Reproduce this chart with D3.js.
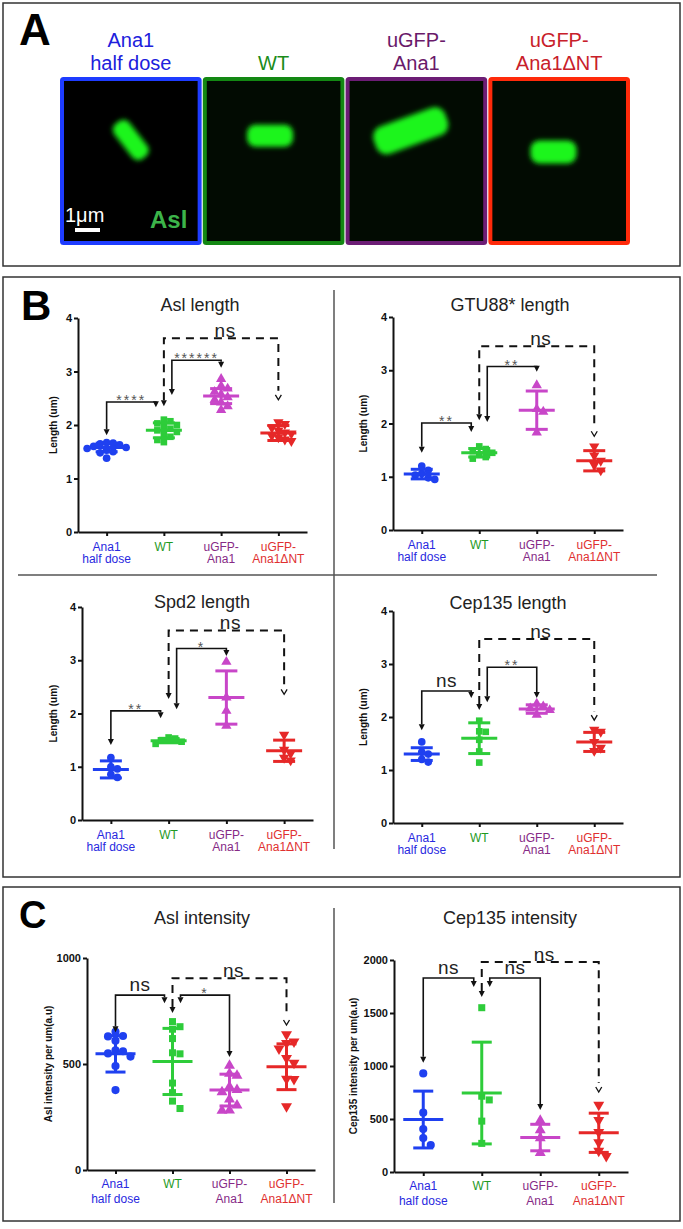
<!DOCTYPE html>
<html>
<head>
<meta charset="utf-8">
<script src="https://cdn.jsdelivr.net/npm/d3@7"></script>
<style>
body { margin: 0; background: #fff; }
text { font-family: "Liberation Sans", Arial, sans-serif; }
</style>
</head>
<body>
<div id="wrapper"></div>
<script>
// categories
const groups = ["Ana1 half dose", "WT", "uGFP-Ana1", "uGFP-Ana1ΔNT"];
const groupLines = [["Ana1", "half dose"], ["WT"], ["uGFP-", "Ana1"], ["uGFP-", "Ana1ΔNT"]];

// B: Asl length
const aslLengthValues = [
    [1.67, 1.66, 1.65, 1.63, 1.6, 1.58, 1.56, 1.53, 1.5, 1.48, 1.38],
    [2.1, 2.07, 2.03, 2.0, 1.97, 1.93, 1.9, 1.87, 1.83, 1.78, 1.72, 1.68],
    [2.86, 2.73, 2.68, 2.62, 2.57, 2.52, 2.47, 2.42, 2.35, 2.28],
    [2.05, 2.02, 1.95, 1.9, 1.86, 1.84, 1.8, 1.77, 1.73, 1.7]
];
const aslLengthMean = [1.58, 1.9, 2.54, 1.85];
const aslLengthSD = [0.08, 0.14, 0.14, 0.14];
const aslLengthTests = [
    {a: 0, b: 1, level: 2.43, tipA: 1.81, tipB: 2.33, label: "****"},
    {a: 1, b: 2, level: 3.21, tipA: 2.56, tipB: 3.07, label: "******"},
    {a: 1, b: 3, level: 3.62, tipA: 2.35, tipB: 2.47, label: "ns", dashed: true}
];

// B: GTU88* length
const gtuLengthValues = [
    [1.2, 1.12, 1.06, 1.03, 0.98, 0.95],
    [1.57, 1.52, 1.48, 1.45, 1.42, 1.37, 1.34],
    [2.72, 2.27, 2.22, 1.83],
    [1.57, 1.4, 1.3, 1.22, 1.12]
];
const gtuLengthMean = [1.05, 1.45, 2.25, 1.3];
const gtuLengthSD = [0.09, 0.08, 0.36, 0.19];
const gtuLengthTests = [
    {a: 0, b: 1, level: 2.01, tipA: 1.45, tipB: 1.84, label: "**"},
    {a: 1, b: 2, level: 3.07, tipA: 2.03, tipB: 2.97, label: "**"},
    {a: 1, b: 3, level: 3.45, tipA: 2.06, tipB: 1.76, label: "ns", dashed: true}
];

// B: Spd2 length
const spd2LengthValues = [
    [1.17, 1.0, 0.96, 0.86, 0.8],
    [1.55, 1.53, 1.5, 1.47, 1.43],
    [2.97, 2.3, 2.05, 1.77],
    [1.6, 1.32, 1.25, 1.17, 1.12]
];
const spd2LengthMean = [0.95, 1.49, 2.3, 1.3];
const spd2LengthSD = [0.16, 0.04, 0.5, 0.2];
const spd2LengthTests = [
    {a: 0, b: 1, level: 2.05, tipA: 1.41, tipB: 1.91, label: "**"},
    {a: 1, b: 2, level: 3.22, tipA: 2.08, tipB: 3.08, label: "*"},
    {a: 1, b: 3, level: 3.56, tipA: 2.27, tipB: 2.36, label: "ns", dashed: true}
];

// B: Cep135 length
const cepLengthValues = [
    [1.53, 1.34, 1.3, 1.2, 1.15],
    [1.93, 1.73, 1.72, 1.57, 1.35, 1.14],
    [2.25, 2.2, 2.16, 2.13, 2.04],
    [1.76, 1.72, 1.53, 1.42, 1.36]
];
const cepLengthMean = [1.3, 1.6, 2.15, 1.53];
const cepLengthSD = [0.12, 0.29, 0.08, 0.18];
const cepLengthTests = [
    {a: 0, b: 1, level: 2.49, tipA: 1.75, tipB: 2.36, label: "ns"},
    {a: 1, b: 2, level: 2.94, tipA: 2.28, tipB: 2.36, label: "**"},
    {a: 1, b: 3, level: 3.47, tipA: 2.13, tipB: 1.94, label: "ns", dashed: true}
];

// C: Asl intensity
const aslIntValues = [
    [652, 632, 630, 610, 565, 560, 550, 535, 490, 377],
    [700, 676, 664, 620, 553, 548, 410, 365, 325, 290],
    [492, 455, 445, 392, 378, 368, 333, 305, 282, 280],
    [640, 605, 598, 572, 528, 505, 430, 428, 300]
];
const aslIntMean = [548, 512, 377, 487];
const aslIntSD = [86, 156, 75, 108];
const aslIntTests = [
    {a: 0, b: 1, level: 825, tipA: 650, tipB: 787, label: "ns"},
    {a: 1, b: 2, level: 825, tipA: 787, tipB: 533, label: "*"},
    {a: 1, b: 3, level: 905, tipA: 740, tipB: 684, label: "ns", dashed: true}
];

// C: Cep135 intensity
const cepIntValues = [
    [930, 560, 405, 320, 255],
    [1550, 715, 680, 480, 270],
    [485, 395, 320, 180],
    [632, 490, 375, 280, 200, 150]
];
const cepIntMean = [495, 745, 325, 370];
const cepIntSD = [268, 480, 125, 185];
const cepIntTests = [
    {a: 0, b: 1, level: 1830, tipA: 1030, tipB: 1745, label: "ns"},
    {a: 1, b: 2, level: 1830, tipA: 1745, tipB: 585, label: "ns"},
    {a: 1, b: 3, level: 1980, tipA: 1650, tipB: 755, label: "ns", dashed: true}
];

const markerColors = ["#1f40f0", "#2ecc3a", "#c846c8", "#e62828"];
const labelColors = ["#2828e0", "#1f9a1f", "#862a86", "#e03030"];
const frameColors = ["#1e3cff", "#138813", "#6c1d75", "#ff2a0a"];
const frameLabelColors = ["#2020dc", "#1a8c1a", "#6a1a6a", "#c8202a"];
const symbols = [d3.symbolCircle, d3.symbolSquare, d3.symbolTriangle, d3.symbolTriangle];

const svg = d3.select("#wrapper").append("svg")
    .attr("width", 683)
    .attr("height", 1229);

const defs = svg.append("defs");
defs.append("filter").attr("id", "glow")
    .attr("x", "-50%").attr("y", "-50%").attr("width", "200%").attr("height", "200%")
    .append("feGaussianBlur").attr("stdDeviation", 2.6);

// panel boxes
svg.append("rect").attr("x", 3).attr("y", 3).attr("width", 677).attr("height", 263)
    .attr("fill", "none").attr("stroke", "#333").attr("stroke-width", 1.5);
svg.append("rect").attr("x", 3).attr("y", 277).attr("width", 677).attr("height", 600)
    .attr("fill", "none").attr("stroke", "#333").attr("stroke-width", 1.5);
svg.append("rect").attr("x", 3).attr("y", 887).attr("width", 677).attr("height", 334)
    .attr("fill", "none").attr("stroke", "#333").attr("stroke-width", 1.5);

// dividers
svg.append("line").attr("x1", 334).attr("x2", 334).attr("y1", 290).attr("y2", 849)
    .attr("stroke", "#555").attr("stroke-width", 1.5);
svg.append("line").attr("x1", 18).attr("x2", 657).attr("y1", 575).attr("y2", 575)
    .attr("stroke", "#555").attr("stroke-width", 1.5);
svg.append("line").attr("x1", 334).attr("x2", 334).attr("y1", 908).attr("y2", 1203)
    .attr("stroke", "#555").attr("stroke-width", 1.5);

// panel letters
[["A", 19, 45, 44], ["B", 21, 320, 42], ["C", 19, 928, 38]].forEach(([t, x, y, s]) => {
    svg.append("text").attr("x", x).attr("y", y).text(t)
        .attr("font-size", s).attr("font-weight", "bold").attr("fill", "#000");
});

// ---- Panel A: images ----
const frameX = d3.scaleBand().domain(groups).range([60, 630]).paddingInner(0.008);
const frameTop = 77, frameBottom = 245;
const blobs = [
    {cx: 0.50, cy: 0.375, w: 44, h: 19, rot: 52},
    {cx: 0.475, cy: 0.35, w: 46, h: 22, rot: 0},
    {cx: 0.46, cy: 0.32, w: 76, h: 29, rot: -20},
    {cx: 0.46, cy: 0.446, w: 46, h: 23, rot: 0}
];
groups.forEach((grp, i) => {
    const fx = frameX(grp), fw = frameX.bandwidth();
    svg.append("rect")
        .attr("x", fx + 2).attr("y", frameTop + 2)
        .attr("width", fw - 4).attr("height", frameBottom - frameTop - 4)
        .attr("fill", i === 0 ? "#000" : "#020b02")
        .attr("stroke", frameColors[i]).attr("stroke-width", 4)
        .attr("rx", 1.5);
    const b = blobs[i];
    const bx = fx + b.cx * fw, by = frameTop + b.cy * (frameBottom - frameTop);
    svg.append("rect")
        .attr("x", -b.w / 2).attr("y", -b.h / 2)
        .attr("width", b.w).attr("height", b.h)
        .attr("rx", b.h / 2.6)
        .attr("fill", "#1cf51c")
        .attr("filter", "url(#glow)")
        .attr("transform", `translate(${bx},${by}) rotate(${b.rot})`);
    // labels above frames
    const lines = groupLines[i];
    const cx = fx + fw / 2;
    lines.forEach((ln, j) => {
        svg.append("text")
            .attr("x", cx)
            .attr("y", lines.length === 1 ? 70 : 47 + j * 23)
            .attr("text-anchor", "middle")
            .attr("font-size", 20)
            .attr("fill", frameLabelColors[i])
            .text(ln);
    });
});
// scale bar + Asl
svg.append("text").attr("x", 65).attr("y", 222).text("1μm")
    .attr("font-size", 20).attr("fill", "#fff");
svg.append("rect").attr("x", 75).attr("y", 228).attr("width", 25).attr("height", 4).attr("fill", "#fff");
svg.append("text").attr("x", 150).attr("y", 228).text("Asl")
    .attr("font-size", 24).attr("font-weight", "bold").attr("fill", "#3cb44a");

// ---- dot plots ----
function swarm(vals, yScale, cx, d) {
    const placed = [];
    return vals.slice().sort((a, b) => b - a).map(v => {
        const py = yScale(v);
        let off = 0;
        for (let i = 0; i < 40; i++) {
            off = i === 0 ? 0 : (i % 2 ? 1 : -1) * Math.ceil(i / 2) * d;
            if (placed.every(p => Math.hypot(p.x - off, p.y - py) >= d)) break;
        }
        placed.push({x: off, y: py});
        return {v, x: cx + off, y: py};
    });
}

function drawDotPlot(opt) {
    const x = d3.scalePoint().domain(groups).range([opt.x0, opt.x1]).padding(0.5);
    const y = d3.scaleLinear().domain(opt.domain).range([opt.yB, opt.yT]);
    const g = svg.append("g");

    // title
    g.append("text").attr("x", opt.titleX).attr("y", opt.titleY)
        .attr("text-anchor", "middle").attr("font-size", 18).attr("fill", "#222")
        .text(opt.title);

    // axes
    const yAxis = g.append("g")
        .attr("transform", `translate(${opt.x0},0)`)
        .call(d3.axisLeft(y).tickValues(opt.ticks).tickFormat(d3.format("d"))
            .tickSize(4).tickSizeOuter(0).tickPadding(2));
    const xAxis = g.append("g")
        .attr("transform", `translate(0,${opt.yB})`)
        .call(d3.axisBottom(x).tickSize(4).tickSizeOuter(0).tickFormat(""));
    [yAxis, xAxis].forEach(ax => {
        ax.select(".domain").attr("stroke", "#111").attr("stroke-width", 2);
        ax.selectAll(".tick line").attr("stroke", "#111").attr("stroke-width", 2);
        ax.selectAll(".tick text")
            .attr("font-family", "Liberation Sans, Arial, sans-serif")
            .attr("font-weight", "bold")
            .attr("font-size", opt.tickFont)
            .attr("fill", "#111");
    });

    // y label
    g.append("text")
        .attr("transform", `translate(${opt.labelX},${(opt.yB + opt.yT) / 2}) rotate(-90)`)
        .attr("text-anchor", "middle")
        .attr("font-size", 10).attr("font-weight", "bold").attr("fill", "#111")
        .text(opt.yLabel);

    // category labels
    groups.forEach((grp, i) => {
        groupLines[i].forEach((ln, j) => {
            g.append("text")
                .attr("x", x(grp))
                .attr("y", opt.yB + opt.lab1 + j * opt.labGap)
                .attr("text-anchor", "middle")
                .attr("font-size", 12)
                .attr("fill", labelColors[i])
                .text(ln);
        });
    });

    // points
    groups.forEach((grp, i) => {
        const pts = swarm(opt.values[i], y, x(grp), opt.spacing);
        const sym = d3.symbol().type(symbols[i]).size(i === 1 ? opt.size * 0.95 : opt.size);
        g.selectAll(null).data(pts).enter().append("path")
            .attr("d", sym)
            .attr("transform", d => `translate(${d.x},${d.y})${i === 3 ? " rotate(180)" : ""}`)
            .attr("fill", markerColors[i]);

        // mean and SD
        const m = opt.mean[i], s = opt.sd[i], cx = x(grp);
        const bar = g.append("g").attr("stroke", markerColors[i]).attr("stroke-width", 3);
        bar.append("line").attr("x1", cx).attr("x2", cx).attr("y1", y(m - s)).attr("y2", y(m + s));
        [m - s, m + s].forEach(v => {
            bar.append("line").attr("x1", cx - opt.cap).attr("x2", cx + opt.cap)
                .attr("y1", y(v)).attr("y2", y(v));
        });
        bar.append("line").attr("x1", cx - opt.meanW).attr("x2", cx + opt.meanW)
            .attr("y1", y(m)).attr("y2", y(m));
    });

    // significance brackets
    opt.tests.forEach(t => {
        const offA = t.a === 1 ? (t.dashed ? 0 : 8) : 0;
        const offB = t.b === 1 ? -8 : 0;
        const xa = x(groups[t.a]) + offA, xb = x(groups[t.b]) + offB;
        const ly = y(t.level), ya = y(t.tipA), yb = y(t.tipB);
        const ah = 6;
        g.append("path")
            .attr("d", `M${xa},${ya - ah}V${ly}H${xb}V${yb - ah - (t.dashed ? 3 : 0)}`)
            .attr("fill", "none").attr("stroke", "#111")
            .attr("stroke-width", t.dashed ? 2 : 1.6)
            .attr("stroke-dasharray", t.dashed ? "8,6" : null);
        // arrowheads
        g.append("path")
            .attr("d", `M${xa - 3},${ya - ah}L${xa + 3},${ya - ah}L${xa},${ya}Z`)
            .attr("fill", "#111");
        if (t.dashed) {
            g.append("path")
                .attr("d", `M${xb - 3},${yb - 5}L${xb},${yb}L${xb + 3},${yb - 5}`)
                .attr("fill", "none").attr("stroke", "#111").attr("stroke-width", 1.3);
        } else {
            g.append("path")
                .attr("d", `M${xb - 3},${yb - ah}L${xb + 3},${yb - ah}L${xb},${yb}Z`)
                .attr("fill", "#111");
        }
        const isNs = t.label === "ns";
        g.append("text")
            .attr("x", (xa + xb) / 2 + (t.dashed ? 4 : 0))
            .attr("y", isNs ? ly - (t.dashed ? 1 : 4) : ly + 3)
            .attr("text-anchor", "middle")
            .attr("font-family", isNs ? "Open Sans, DejaVu Sans, sans-serif" : "Liberation Sans, Arial, sans-serif")
            .attr("font-size", isNs ? 19 : 14)
            .attr("letter-spacing", isNs ? 0.5 : 2)
            .attr("fill", isNs ? "#222" : "#555")
            .text(t.label);
    });
}

const bBase = {domain: [0, 4], ticks: [0, 1, 2, 3, 4], tickFont: 11, yLabel: "Length (um)",
    lab1: 19, labGap: 12, spacing: 6.5, size: 46, cap: 11, meanW: 18};
const cBase = {tickFont: 11, lab1: 18, labGap: 15, spacing: 7.5, size: 52, cap: 10, meanW: 20};

drawDotPlot(Object.assign({}, bBase, {
    title: "Asl length", values: aslLengthValues, mean: aslLengthMean, sd: aslLengthSD, tests: aslLengthTests,
    x0: 78, x1: 307, yB: 532, yT: 318, titleX: 200, titleY: 311, labelX: 57
}));
drawDotPlot(Object.assign({}, bBase, {
    title: "GTU88* length", values: gtuLengthValues, mean: gtuLengthMean, sd: gtuLengthSD, tests: gtuLengthTests,
    x0: 393, x1: 623, yB: 530, yT: 317, titleX: 510, titleY: 311, labelX: 367
}));
drawDotPlot(Object.assign({}, bBase, {
    title: "Spd2 length", values: spd2LengthValues, mean: spd2LengthMean, sd: spd2LengthSD, tests: spd2LengthTests,
    x0: 82, x1: 313, yB: 820, yT: 607, titleX: 202, titleY: 608, labelX: 57
}));
drawDotPlot(Object.assign({}, bBase, {
    title: "Cep135 length", values: cepLengthValues, mean: cepLengthMean, sd: cepLengthSD, tests: cepLengthTests,
    x0: 393, x1: 623, yB: 823, yT: 611, titleX: 508, titleY: 609, labelX: 367
}));
drawDotPlot(Object.assign({}, cBase, {
    title: "Asl intensity", values: aslIntValues, mean: aslIntMean, sd: aslIntSD, tests: aslIntTests,
    domain: [0, 1000], ticks: [0, 500, 1000], yLabel: "Asl intensity per um(a.u)",
    x0: 87, x1: 315, yB: 1170, yT: 958, titleX: 202, titleY: 924, labelX: 52
}));
drawDotPlot(Object.assign({}, cBase, {
    title: "Cep135 intensity", values: cepIntValues, mean: cepIntMean, sd: cepIntSD, tests: cepIntTests,
    domain: [0, 2000], ticks: [0, 500, 1000, 1500, 2000], yLabel: "Cep135 intensity per um(a.u)",
    x0: 394, x1: 628, yB: 1172, yT: 960, titleX: 510, titleY: 924, labelX: 357
}));
</script>
</body>
</html>
